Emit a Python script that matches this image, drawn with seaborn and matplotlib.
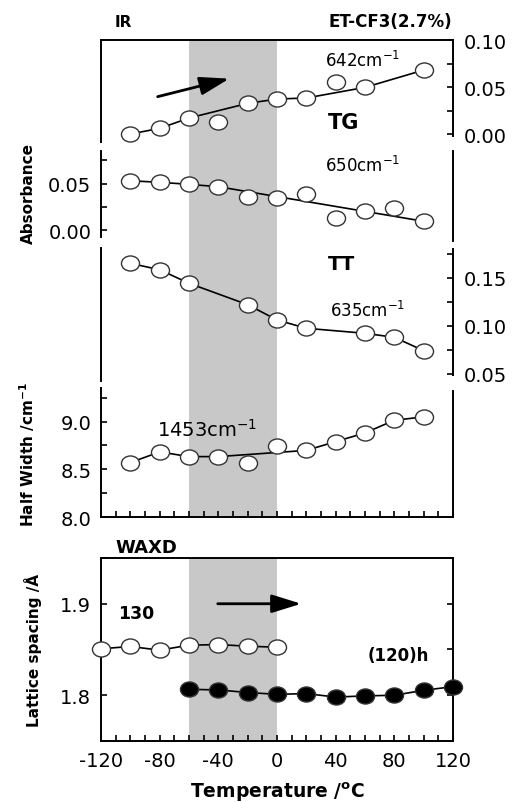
import matplotlib
matplotlib.use("Agg")
import matplotlib.pyplot as plt
import seaborn as sns
from matplotlib.path import Path
from matplotlib.ticker import MultipleLocator, FormatStrFormatter

# IR 642 cm-1 (TG)
tg_temp = [-100, -80, -60, -40, -20, 0, 20, 40, 60, 100]
tg_abs = [0.000, 0.006, 0.017, 0.0124, 0.0326, 0.0372, 0.0383, 0.055, 0.0496, 0.068]
tg_line_temp = [-100, -80, -60, -20, 0, 20, 60, 100]
tg_line_abs = [0.000, 0.006, 0.017, 0.0326, 0.0372, 0.0383, 0.0496, 0.068]

# IR 650 cm-1
g650_temp = [-100, -80, -60, -40, -20, 0, 20, 40, 60, 80, 100]
g650_abs = [0.0529, 0.0513, 0.0491, 0.0466, 0.036, 0.0343, 0.0385, 0.0133, 0.0204, 0.0239, 0.0098]
g650_line_temp = [-100, -80, -60, -40, 100]
g650_line_abs = [0.0529, 0.0513, 0.0491, 0.0466, 0.0098]

# IR 635 cm-1 (TT)
tt_temp = [-100, -80, -60, -20, 0, 20, 60, 80, 100]
tt_abs = [0.1653, 0.1586, 0.1445, 0.1222, 0.1063, 0.0976, 0.0924, 0.0882, 0.0743]

# half width of 1453 cm-1
hw_temp = [-100, -80, -60, -40, -20, 0, 20, 40, 60, 80, 100]
hw_val = [8.570, 8.682, 8.633, 8.633, 8.563, 8.744, 8.698, 8.790, 8.881, 9.014, 9.049]
hw_line_temp = [-100, -80, -60, -40, 20, 40, 60, 80, 100]
hw_line_val = [8.570, 8.682, 8.633, 8.633, 8.698, 8.790, 8.881, 9.014, 9.049]

# WAXD lattice spacing
waxd130_temp = [-120, -100, -80, -60, -40, -20, 0]
waxd130_d = [1.8508, 1.8533, 1.8493, 1.8547, 1.8554, 1.8536, 1.8525]
waxd120_temp = [-60, -40, -20, 0, 20, 40, 60, 80, 100, 120]
waxd120_d = [1.8065, 1.8058, 1.803, 1.801, 1.8018, 1.798, 1.7993, 1.800, 1.8054, 1.8094]

band = (-60, 0)

W, H = 512, 803
BAND_COLOR = "#c8c8c8"

sns.set_style("ticks")
plt.rcParams["font.family"] = ["DejaVu Sans"]
plt.rcParams["mathtext.default"] = "regular"
plt.rcParams["axes.unicode_minus"] = False
plt.rcParams["text.color"] = "black"

circ = Path.unit_circle()
OVAL = Path(circ.vertices * [1.2, 1.0], circ.codes)


def frame(fig, top, bottom, left=101, right=453):
    return fig.add_axes([left / W, 1 - bottom / H, (right - left) / W, (bottom - top) / H])


def style(ax, ylim):
    ax.set_xlim(-120, 120)
    ax.set_ylim(*ylim)
    ax.set_facecolor("none")
    for s in ax.spines.values():
        s.set_linewidth(1.4)
        s.set_color("black")
    ax.tick_params(which="both", direction="in", length=4, width=1.2, labelsize=14,
                   colors="black", bottom=False, top=False, left=False, right=False,
                   labelbottom=False, labelleft=False, labelright=False)
    ax.xaxis.set_major_locator(MultipleLocator(40))
    ax.xaxis.set_minor_locator(MultipleLocator(10))
    ax.set_xlabel("")
    ax.set_ylabel("")


def draw(ax, t, v, lt=None, lv=None, filled=False):
    if lt is None:
        lt, lv = t, v
    sns.lineplot(x=lt, y=lv, ax=ax, color="black", linewidth=1.2, zorder=2,
                 estimator=None, sort=False)
    sns.scatterplot(x=t, y=v, ax=ax, marker=OVAL, s=13 ** 2,
                    color="black" if filled else "white", edgecolor="#333333",
                    linewidth=1.0, zorder=3, clip_on=False)


fig = plt.figure(figsize=(W / 100, H / 100), dpi=100)

# shaded band behind the IR stack
bg = frame(fig, 41, 518)
bg.set_xlim(-120, 120)
bg.axvspan(*band, color=BAND_COLOR, lw=0)
bg.axis("off")

# panel 1: 642 cm-1
ax1 = frame(fig, 41, 143)
style(ax1, (-0.0085, 0.10))
draw(ax1, tg_temp, tg_abs, tg_line_temp, tg_line_abs)
ax1.spines["bottom"].set_visible(False)
ax1.spines["right"].set_bounds(-0.002, 0.10)
ax1.yaxis.set_major_locator(MultipleLocator(0.05))
ax1.yaxis.set_minor_locator(MultipleLocator(0.025))
ax1.yaxis.set_major_formatter(FormatStrFormatter("%.2f"))
ax1.tick_params(which="both", right=True, labelright=True, pad=8)
ax1.annotate("", xy=(-30.7, 0.0596), xytext=(-83.2, 0.039),
             arrowprops=dict(arrowstyle="-|>,head_length=0.9,head_width=0.28",
                             color="black", lw=2, mutation_scale=20))

# panel 2: 650 cm-1
ax2 = frame(fig, 152, 242)
style(ax2, (-0.0112, 0.0846))
draw(ax2, g650_temp, g650_abs, g650_line_temp, g650_line_abs)
ax2.spines["top"].set_visible(False)
ax2.spines["bottom"].set_visible(False)
ax2.spines["left"].set_bounds(-0.0069, 0.0846)
ax2.yaxis.set_major_locator(MultipleLocator(0.05))
ax2.yaxis.set_minor_locator(MultipleLocator(0.025))
ax2.yaxis.set_major_formatter(FormatStrFormatter("%.2f"))
ax2.tick_params(which="both", left=True, labelleft=True, pad=7)

# panel 3: 635 cm-1
ax3 = frame(fig, 249, 382)
style(ax3, (0.0427, 0.18125))
draw(ax3, tt_temp, tt_abs)
ax3.spines["top"].set_visible(False)
ax3.spines["bottom"].set_visible(False)
ax3.spines["right"].set_bounds(0.049, 0.180)
ax3.yaxis.set_major_locator(MultipleLocator(0.05))
ax3.yaxis.set_minor_locator(MultipleLocator(0.025))
ax3.yaxis.set_major_formatter(FormatStrFormatter("%.2f"))
ax3.tick_params(which="both", right=True, labelright=True, pad=8)

# panel 4: half width
ax4 = frame(fig, 389, 518)
style(ax4, (8.0, 9.352))
draw(ax4, hw_temp, hw_val, hw_line_temp, hw_line_val)
ax4.spines["top"].set_visible(False)
ax4.spines["right"].set_bounds(8.0, 9.32)
ax4.yaxis.set_major_locator(MultipleLocator(0.5))
ax4.yaxis.set_minor_locator(MultipleLocator(0.25))
ax4.yaxis.set_major_formatter(FormatStrFormatter("%.1f"))
ax4.tick_params(which="both", left=True, labelleft=True, pad=7)
ax4.tick_params(which="both", bottom=True)

# WAXD
ax5 = frame(fig, 559, 742)
style(ax5, (1.75, 1.95))
ax5.axvspan(*band, color=BAND_COLOR, lw=0, zorder=0)
draw(ax5, waxd130_temp, waxd130_d)
draw(ax5, waxd120_temp, waxd120_d, filled=True)
ax5.yaxis.set_major_locator(MultipleLocator(0.1))
ax5.yaxis.set_minor_locator(MultipleLocator(0.05))
ax5.yaxis.set_major_formatter(FormatStrFormatter("%.1f"))
ax5.tick_params(which="both", left=True, right=True, bottom=True,
                labelleft=True, labelbottom=True, pad=7)
ax5.annotate("", xy=(18.4, 1.9), xytext=(-42.3, 1.9),
             arrowprops=dict(arrowstyle="-|>,head_length=0.9,head_width=0.28",
                             color="black", lw=2, mutation_scale=20))


def ftext(x, y, s, **kw):
    fig.text(x / W, 1 - y / H, s, color="black", **kw)


ftext(115, 27, "IR", fontsize=11, fontweight="bold", va="baseline")
ftext(452, 27, "ET-CF3(2.7%)", fontsize=12, fontweight="bold", va="baseline", ha="right")
ftext(325, 67, "642cm$^{-1}$", fontsize=12, va="baseline")
ftext(328, 129, "TG", fontsize=15, fontweight="bold", va="baseline")
ftext(325, 172, "650cm$^{-1}$", fontsize=12, va="baseline")
ftext(328, 270, "TT", fontsize=14, fontweight="bold", va="baseline")
ftext(330, 317, "635cm$^{-1}$", fontsize=12, va="baseline")
ftext(157, 437, "1453cm$^{-1}$", fontsize=14, va="baseline")
ftext(115, 553, "WAXD", fontsize=13, fontweight="bold", va="baseline")
ftext(118, 619, "130", fontsize=12.5, fontweight="bold", va="baseline")
ftext(368, 661, "(120)h", fontsize=12, fontweight="bold", va="baseline")

ftext(28, 194, "Absorbance", fontsize=11, fontweight="bold", rotation=90,
      ha="center", va="center")
ftext(27, 455, r"Half Width /cm$^{\mathbf{-1}}$", fontsize=11, fontweight="bold",
      rotation=90, ha="center", va="center")
ftext(33, 650, "Lattice spacing /Å", fontsize=11, fontweight="bold", rotation=90,
      ha="center", va="center")
ftext(277, 798, r"Temperature /$^{\mathbf{o}}$C", fontsize=13.5, fontweight="bold",
      ha="center", va="baseline")

fig.savefig("out.png", dpi=100)
